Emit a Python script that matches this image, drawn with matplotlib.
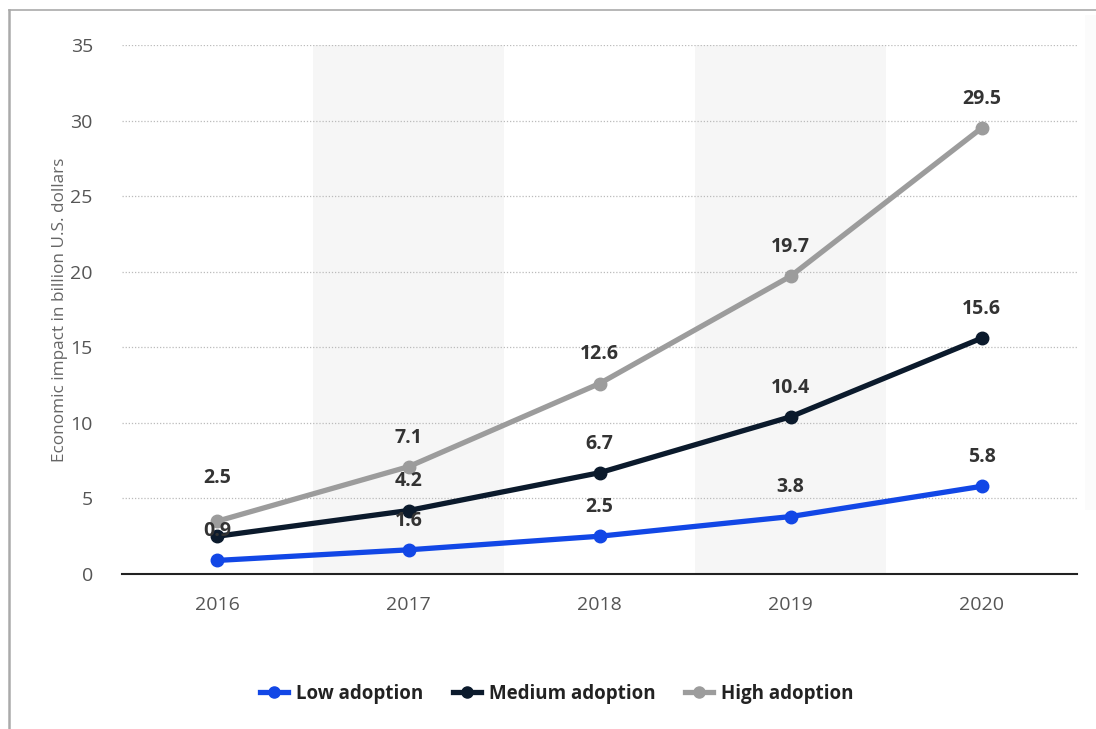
import matplotlib
matplotlib.use('agg')
from matplotlib import pyplot as plt
from matplotlib.lines import Line2D
from matplotlib.patches import Rectangle

plt.rcParams['font.family'] = ['Open Sans', 'DejaVu Sans']

years = ['2016', '2017', '2018', '2019', '2020']
low = [0.9, 1.6, 2.5, 3.8, 5.8]
medium = [2.5, 4.2, 6.7, 10.4, 15.6]
high = [3.5, 7.1, 12.6, 19.7, 29.5]

series = [
    ('Low adoption', low, '#1247e6'),
    ('Medium adoption', medium, '#0b1a2c'),
    ('High adoption', high, '#9c9c9c'),
]

fig = plt.figure(figsize=(10.96, 7.29), dpi=100)
ax = fig.add_axes([0.1113, 0.2126, 0.8714, 0.7257])

x = list(range(len(years)))

# alternating column shading
for i in x:
    if i % 2 == 1:
        ax.axvspan(i - 0.5, i + 0.5, color='#f6f6f6', zorder=0, lw=0)

for name, vals, col in series:
    ax.plot(x, vals, color=col, lw=3.8, marker='o', ms=9, label=name,
            solid_capstyle='round', zorder=3)

# value labels; the 2016 high label is skipped and medium is lifted clear of the line
for name, vals, col in series:
    for i, v in enumerate(vals):
        if name == 'High adoption' and i == 0:
            continue
        dy = 21
        if name == 'Medium adoption' and i == 0:
            dy = 42
        ax.annotate(f'{v}', (i, v), xytext=(0, dy), textcoords='offset points',
                    ha='center', va='center', fontsize=14, fontweight='bold',
                    color='#333333', zorder=5)

ax.set_xlim(-0.5, 4.5)
ax.set_ylim(0, 35)
ax.set_yticks(range(0, 36, 5))
ax.set_xticks(x)
ax.set_xticklabels(years)

for y in range(5, 36, 5):
    ax.axhline(y, color='#bbbbbb', lw=0.9, ls=(0, (1, 1.5)), zorder=1)

for s in ['top', 'right', 'left']:
    ax.spines[s].set_visible(False)
ax.spines['bottom'].set_color('#222222')
ax.spines['bottom'].set_linewidth(1.5)

ax.tick_params(axis='both', length=0, labelsize=14, labelcolor='#555555')
ax.tick_params(axis='x', pad=16)
ax.tick_params(axis='y', pad=21)

ax.set_ylabel('Economic impact in billion U.S. dollars', fontsize=12.3,
              color='#666666', labelpad=2)

handles = [Line2D([0], [0], color=c, lw=3.8, marker='o', ms=8) for _, _, c in series]
fig.legend(handles, [n for n, _, _ in series], loc='center', ncol=3,
           bbox_to_anchor=(0.508, 0.048), frameon=False, handlelength=1.5,
           handletextpad=0.4, columnspacing=1.6,
           prop={'size': 13.5, 'weight': 'bold'}, labelcolor='#222222')

# screenshot frame
fig.add_artist(Line2D([0.0082, 0.0082], [0, 0.9863], color='#aaaaaa', lw=1.8,
                      transform=fig.transFigure))
fig.add_artist(Line2D([0.0082, 1], [0.9863, 0.9863], color='#aaaaaa', lw=1.2,
                      transform=fig.transFigure))
fig.add_artist(Rectangle((0.99, 0.3), 0.01, 0.68, transform=fig.transFigure,
                         color='#fbfbfb', lw=0, zorder=-1))

plt.savefig('out.png', dpi=100, facecolor='white')
